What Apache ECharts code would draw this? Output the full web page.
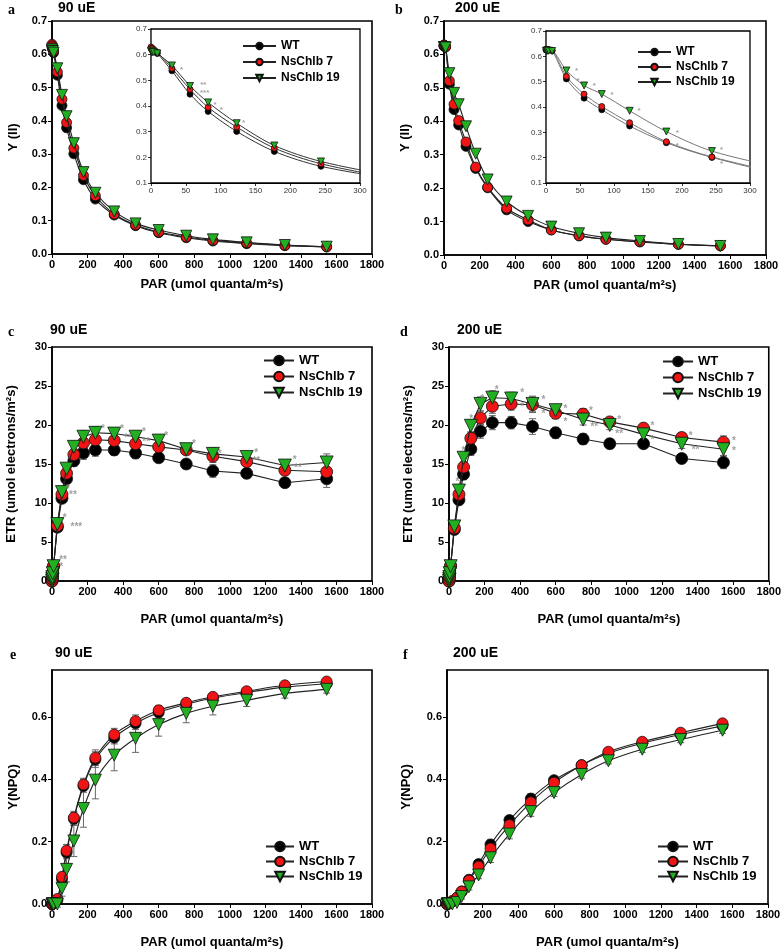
<!DOCTYPE html>
<html>
<head>
<meta charset="utf-8">
<script src="https://cdn.jsdelivr.net/npm/echarts@6/dist/echarts.min.js"></script>
<style>
  html, body { margin: 0; padding: 0; background: #fff; }
  #chart { width: 784px; height: 952px; }
</style>
</head>
<body>
<div id="chart"></div>
<script>
// light steps (umol quanta/m2s)
const PAR = [0, 1, 2, 4, 9, 30, 56, 82, 123, 177, 244, 350, 470, 600, 755, 905, 1095, 1310, 1545];

// a: Y(II), 90 uE
const a_WT = [0.625, 0.62, 0.62, 0.615, 0.605, 0.537, 0.446, 0.379, 0.301, 0.223, 0.165, 0.117, 0.085, 0.064, 0.049, 0.039, 0.031, 0.025, 0.021];
const a_7 = [0.63, 0.625, 0.625, 0.62, 0.61, 0.547, 0.465, 0.395, 0.318, 0.236, 0.175, 0.12, 0.087, 0.066, 0.051, 0.041, 0.033, 0.026, 0.022];
const a_19 = [0.615, 0.61, 0.61, 0.61, 0.605, 0.558, 0.478, 0.414, 0.333, 0.246, 0.184, 0.128, 0.092, 0.072, 0.055, 0.044, 0.035, 0.027, 0.022];

// b: Y(II), 200 uE
const b_WT = [0.625, 0.625, 0.625, 0.625, 0.622, 0.511, 0.435, 0.389, 0.325, 0.259, 0.201, 0.135, 0.1, 0.075, 0.057, 0.047, 0.039, 0.032, 0.027];
const b_7 = [0.628, 0.628, 0.627, 0.626, 0.624, 0.521, 0.451, 0.402, 0.338, 0.263, 0.203, 0.14, 0.105, 0.075, 0.058, 0.047, 0.04, 0.032, 0.028];
const b_19 = [0.622, 0.622, 0.622, 0.622, 0.621, 0.544, 0.485, 0.451, 0.385, 0.303, 0.226, 0.16, 0.117, 0.085, 0.065, 0.052, 0.042, 0.033, 0.027];

// c: ETR, 90 uE
const c_WT = [0, 0.26, 0.52, 1.0, 1.9, 6.9, 10.6, 13.1, 15.4, 16.4, 16.8, 16.8, 16.4, 15.8, 15.0, 14.1, 13.8, 12.6, 13.1];
const c_7 = [0, 0.26, 0.52, 1.0, 1.95, 7.1, 11.1, 13.8, 16.2, 17.7, 18.1, 18.0, 17.6, 17.2, 16.8, 16.0, 15.3, 14.2, 14.0];
const c_19 = [0, 0.25, 0.5, 1.0, 1.9, 7.3, 11.4, 14.4, 17.2, 18.5, 19.0, 18.9, 18.5, 18.0, 16.9, 16.3, 15.9, 14.8, 15.2];
const c_err = [0, 0, 0, 0, 0.2, 0.4, 0.5, 0.6, 0.7, 0.8, 0.8, 0.7, 0.7, 0.6, 0.5, 0.8, 0.6, 0.6, 1.1];

// d: ETR, 200 uE
const d_WT = [0, 0.26, 0.52, 1.0, 1.9, 6.6, 10.4, 13.7, 16.9, 19.2, 20.3, 20.3, 19.8, 19.0, 18.2, 17.6, 17.6, 15.7, 15.2];
const d_7 = [0, 0.26, 0.52, 1.0, 1.95, 6.8, 11.1, 14.6, 18.3, 20.9, 22.4, 22.7, 22.6, 21.5, 21.4, 20.4, 19.6, 18.4, 17.8];
const d_19 = [0, 0.26, 0.52, 1.0, 1.9, 7.0, 11.6, 15.8, 19.9, 22.7, 23.5, 23.4, 22.7, 21.9, 20.7, 20.0, 18.8, 17.6, 16.9];
const d_err = [0, 0, 0, 0, 0.2, 0.4, 0.6, 0.7, 0.8, 0.9, 0.9, 0.8, 1.0, 0.7, 0.7, 0.6, 0.6, 0.6, 0.8];

// e: Y(NPQ), 90 uE
const e_WT = [0, 0, 0, 0.002, 0.005, 0.012, 0.08, 0.165, 0.273, 0.378, 0.463, 0.533, 0.579, 0.614, 0.64, 0.66, 0.678, 0.695, 0.706];
const e_7 = [0, 0, 0, 0.003, 0.006, 0.016, 0.087, 0.171, 0.277, 0.383, 0.469, 0.543, 0.586, 0.621, 0.645, 0.664, 0.682, 0.701, 0.713];
const e_19 = [0, 0, 0, 0, 0, 0, 0.05, 0.111, 0.202, 0.306, 0.397, 0.477, 0.531, 0.575, 0.611, 0.634, 0.653, 0.675, 0.688];
const e_err = [0, 0, 0, 0, 0, 0.005, 0.01, 0.02, 0.02, 0.02, 0.025, 0.02, 0.02, 0.015, 0.012, 0.01, 0.01, 0.01, 0.01];
const e_err19 = [0, 0, 0, 0, 0, 0.01, 0.025, 0.04, 0.05, 0.06, 0.06, 0.05, 0.045, 0.037, 0.03, 0.028, 0.02, 0.015, 0.012];

// f: Y(NPQ), 200 uE
const f_WT = [0, 0, 0, 0, 0.002, 0.008, 0.02, 0.04, 0.078, 0.128, 0.191, 0.269, 0.338, 0.397, 0.445, 0.483, 0.515, 0.543, 0.571];
const f_7 = [0, 0, 0, 0, 0.003, 0.01, 0.02, 0.04, 0.075, 0.12, 0.178, 0.253, 0.326, 0.389, 0.445, 0.488, 0.52, 0.549, 0.579];
const f_19 = [0, 0, 0, 0, 0, 0, 0.005, 0.024, 0.055, 0.093, 0.148, 0.224, 0.296, 0.357, 0.415, 0.459, 0.496, 0.527, 0.557];
const f_err = [0, 0, 0, 0, 0, 0.003, 0.005, 0.008, 0.01, 0.012, 0.015, 0.015, 0.015, 0.012, 0.012, 0.01, 0.01, 0.01, 0.01];

// significance marks [PAR, value, text]
const starsA = [[44, 0.54, '*'], [75, 0.482, '**'], [77, 0.452, '***'], [92, 0.405, '*'], [101, 0.385, '*'], [133, 0.336, '*']];
const starsB = [[45, 0.541, '*'], [47, 0.504, '*'], [71, 0.484, '*'], [97, 0.448, '*'], [137, 0.385, '*'], [193, 0.3, '*'], [193, 0.246, '*'], [258, 0.23, '*'], [258, 0.177, '*']];
const starsC = [[52, 1.8, '*'], [62, 2.7, '**'], [71, 8, '*'], [137, 6.9, '***'], [90, 11.8, '*'], [118, 11, '**'], [287, 19.5, '*'], [394, 19.5, '*'], [428, 18.3, '**'], [517, 19.1, '*'], [530, 17.8, '**'], [643, 18.5, '*'], [799, 17.5, '*'], [943, 16.3, '*'], [1149, 16.4, '*'], [1149, 15.4, '**'], [1365, 15.5, '*'], [1384, 14.5, '**']];
const starsD = [[47, 12.6, '*'], [82, 16.6, '*'], [125, 20.7, '*'], [187, 23.3, '*'], [269, 24.4, '*'], [412, 24.1, '*'], [412, 22.3, '*'], [531, 23.2, '*'], [531, 21.4, '*'], [655, 22, '*'], [655, 20.3, '*'], [799, 21.7, '*'], [818, 19.7, '**'], [958, 20.6, '*'], [958, 18.8, '**'], [1145, 19.8, '*'], [1145, 18, '*'], [1360, 18.5, '*'], [1388, 16.8, '**'], [1604, 17.9, '*'], [1604, 16.6, '*']];

const NAMES = ['WT', 'NsChlb 7', 'NsChlb 19'];
const FONT = '"Liberation Sans", Arial, sans-serif';
const RED = '#f01414';
const GREEN = '#22b022';

const chart = echarts.init(document.getElementById('chart'));

// grid boxes: a, b, c, d, e, f, inset a, inset b
const boxes = [
  [52, 21, 320, 233], [444, 21, 322, 234],
  [52, 347, 320, 234], [449, 347, 321, 234],
  [52, 670, 320, 234], [447, 670, 321, 234],
  [151, 29, 209, 154], [546, 31, 204, 152]
];

const grid = boxes.map((b, i) => ({
  left: b[0], top: b[1], width: b[2], height: b[3],
  show: true, backgroundColor: '#fff',
  borderColor: '#000', borderWidth: i < 6 ? 1.6 : 1.3,
  z: i < 6 ? 0 : 3
}));

const xNameGap = [24, 24, 32, 32, 32, 32];
const yNameGap = [32, 32, 34, 34, 32, 34];
const yNames = ['Y (II)', 'Y (II)', 'ETR (umol electrons/m²s)', 'ETR (umol electrons/m²s)', 'Y(NPQ)', 'Y(NPQ)'];
const yRange = [[0, 0.7, 0.1], [0, 0.7, 0.1], [0, 30, 5], [0, 30, 5], [0, 0.75, 0.2], [0, 0.75, 0.2]];

const xAxis = [];
const yAxis = [];
for (let i = 0; i < 6; i++) {
  xAxis.push({
    type: 'value', gridIndex: i, min: 0, max: 1800, interval: 200,
    name: 'PAR (umol quanta/m²s)', nameLocation: 'middle', nameGap: xNameGap[i],
    nameTextStyle: { fontFamily: FONT, fontWeight: 'bold', fontSize: 13, color: '#000' },
    axisLine: { lineStyle: { color: '#000', width: 1.6 } },
    axisTick: { length: 4, lineStyle: { color: '#000', width: 1 } },
    axisLabel: { fontFamily: FONT, fontWeight: 'bold', fontSize: 11, color: '#000', margin: 5, formatter: v => String(v) },
    splitLine: { show: false }
  });
  const r = yRange[i];
  yAxis.push({
    type: 'value', gridIndex: i, min: r[0], max: r[1], interval: r[2],
    name: yNames[i], nameLocation: 'middle', nameGap: yNameGap[i], nameRotate: 90,
    nameTextStyle: { fontFamily: FONT, fontWeight: 'bold', fontSize: 13, color: '#000' },
    axisLine: { lineStyle: { color: '#000', width: 1.6 } },
    axisTick: { length: 4, lineStyle: { color: '#000', width: 1 } },
    axisLabel: {
      fontFamily: FONT, fontWeight: 'bold', fontSize: 11, color: '#000', margin: 5,
      showMaxLabel: i < 4,
      formatter: v => (i < 2 || i > 3) ? v.toFixed(1) : String(v)
    },
    splitLine: { show: false }
  });
}
// insets
for (let i = 6; i < 8; i++) {
  xAxis.push({
    type: 'value', gridIndex: i, min: 0, max: 300, interval: 50,
    axisLine: { lineStyle: { color: '#000', width: 1.2 } },
    axisTick: { length: 3, lineStyle: { color: '#000', width: 0.8 } },
    axisLabel: { fontFamily: FONT, fontSize: 8, color: '#333', margin: 4, formatter: v => String(v) },
    splitLine: { show: false }
  });
  yAxis.push({
    type: 'value', gridIndex: i, min: 0.1, max: 0.7, interval: 0.1,
    axisLine: { lineStyle: { color: '#000', width: 1.2 } },
    axisTick: { length: 3, lineStyle: { color: '#000', width: 0.8 } },
    axisLabel: { fontFamily: FONT, fontSize: 8, color: '#333', margin: 4, formatter: v => v.toFixed(1) },
    splitLine: { show: false }
  });
}

function pts(vals) {
  return PAR.map((p, i) => [p, vals[i]]);
}

function lineSeries(k, vals, idx, size, opts) {
  const colors = ['#000', RED, GREEN];
  const tri = k === 2;
  return Object.assign({
    type: 'line', name: NAMES[k], xAxisIndex: idx, yAxisIndex: idx,
    data: pts(vals),
    symbol: tri ? 'triangle' : 'circle',
    symbolRotate: tri ? 180 : 0,
    symbolSize: tri ? size + 1 : size,
    showAllSymbol: true,
    itemStyle: { color: colors[k], borderColor: '#111', borderWidth: 0.8 },
    lineStyle: { color: '#222', width: 1.1 },
    emphasis: { disabled: true },
    z: 5 + k
  }, opts || {});
}

function errSeries(vals, errs, idx) {
  return {
    type: 'custom', xAxisIndex: idx, yAxisIndex: idx, silent: true, z: 4,
    data: PAR.map((p, i) => [p, vals[i] - errs[i], vals[i] + errs[i]]),
    renderItem(params, api) {
      const lo = api.coord([api.value(0), api.value(1)]);
      const hi = api.coord([api.value(0), api.value(2)]);
      const w = 3.5;
      const st = { stroke: '#666', lineWidth: 1 };
      return {
        type: 'group', children: [
          { type: 'line', shape: { x1: lo[0], y1: lo[1], x2: hi[0], y2: hi[1] }, style: st },
          { type: 'line', shape: { x1: lo[0] - w, y1: lo[1], x2: lo[0] + w, y2: lo[1] }, style: st },
          { type: 'line', shape: { x1: hi[0] - w, y1: hi[1], x2: hi[0] + w, y2: hi[1] }, style: st }
        ]
      };
    }
  };
}

function starSeries(list, idx, size) {
  return {
    type: 'scatter', xAxisIndex: idx, yAxisIndex: idx, silent: true, z: 9,
    symbolSize: 0, data: list,
    label: {
      show: true, position: 'inside', formatter: p => p.value[2],
      fontFamily: FONT, fontWeight: 'bold', fontSize: size, color: '#8a8a8a'
    }
  };
}

const series = [];
// a
series.push(lineSeries(0, a_WT, 0, 10, { smooth: 0.3 }), lineSeries(1, a_7, 0, 10, { smooth: 0.3 }), lineSeries(2, a_19, 0, 10, { smooth: 0.3 }));
// b
series.push(lineSeries(0, b_WT, 1, 10, { smooth: 0.3 }), lineSeries(1, b_7, 1, 10, { smooth: 0.3 }), lineSeries(2, b_19, 1, 10, { smooth: 0.3 }));
// c
[c_WT, c_7, c_19].forEach(v => series.push(errSeries(v, c_err, 2)));
series.push(lineSeries(0, c_WT, 2, 12), lineSeries(1, c_7, 2, 12), lineSeries(2, c_19, 2, 12));
series.push(starSeries(starsC, 2, 10));
// d
[d_WT, d_7, d_19].forEach(v => series.push(errSeries(v, d_err, 3)));
series.push(lineSeries(0, d_WT, 3, 12), lineSeries(1, d_7, 3, 12), lineSeries(2, d_19, 3, 12));
series.push(starSeries(starsD, 3, 10));
// e
series.push(errSeries(e_WT, e_err, 4), errSeries(e_7, e_err, 4), errSeries(e_19, e_err19, 4));
series.push(lineSeries(0, e_WT, 4, 11, { smooth: 0.3 }), lineSeries(1, e_7, 4, 11, { smooth: 0.3 }), lineSeries(2, e_19, 4, 11, { smooth: 0.3 }));
// f
[f_WT, f_7, f_19].forEach(v => series.push(errSeries(v, f_err, 5)));
series.push(lineSeries(0, f_WT, 5, 11, { smooth: 0.3 }), lineSeries(1, f_7, 5, 11, { smooth: 0.3 }), lineSeries(2, f_19, 5, 11, { smooth: 0.3 }));
// insets
const insetLine = { smooth: 0.3, z: 12 };
series.push(
  lineSeries(0, a_WT, 6, 6, Object.assign({ lineStyle: { color: '#333', width: 1 } }, insetLine)),
  lineSeries(1, a_7, 6, 6, Object.assign({ lineStyle: { color: '#333', width: 1 } }, insetLine)),
  lineSeries(2, a_19, 6, 6, Object.assign({ lineStyle: { color: '#333', width: 1 } }, insetLine)),
  lineSeries(0, b_WT, 7, 6, Object.assign({ lineStyle: { color: '#777', width: 1 } }, insetLine)),
  lineSeries(1, b_7, 7, 6, Object.assign({ lineStyle: { color: '#777', width: 1 } }, insetLine)),
  lineSeries(2, b_19, 7, 6, Object.assign({ lineStyle: { color: '#777', width: 1 } }, insetLine))
);
const sa = starSeries(starsA, 6, 8); sa.z = 13;
const sb = starSeries(starsB, 7, 8); sb.z = 13;
series.push(sa, sb);

function legendAt(left, top, w, h, gap, fs) {
  return {
    orient: 'vertical', left: left, top: top, itemWidth: w, itemHeight: h, itemGap: gap,
    selectedMode: false, data: NAMES, z: 20, padding: 0,
    textStyle: { fontFamily: FONT, fontWeight: 'bold', fontSize: fs, color: '#000' }
  };
}

const legend = [
  legendAt(242, 40, 33, 8, 4, 12),
  legendAt(637, 46, 33, 8, 3, 12),
  legendAt(263, 354, 30, 12, 3, 13),
  legendAt(662, 355, 30, 12, 3, 13),
  legendAt(265, 840, 28, 12, 2, 13),
  legendAt(657, 840, 30, 12, 2, 13)
];

const headers = [
  ['a', 8, 10, '90 uE', 58, 8],
  ['b', 395, 10, '200 uE', 455, 8],
  ['c', 8, 332, '90 uE', 50, 330],
  ['d', 400, 332, '200 uE', 457, 330],
  ['e', 10, 655, '90 uE', 55, 653],
  ['f', 403, 655, '200 uE', 453, 653]
];
const graphic = [];
headers.forEach(h => {
  graphic.push({
    type: 'text', x: h[1], y: h[2],
    style: { text: h[0], font: 'bold 14px "Liberation Serif", "Times New Roman", serif', fill: '#000', textVerticalAlign: 'middle' }
  });
  graphic.push({
    type: 'text', x: h[4], y: h[5],
    style: { text: h[3], font: 'bold 14px ' + FONT, fill: '#000', textVerticalAlign: 'middle' }
  });
});

chart.setOption({
  animation: false,
  backgroundColor: '#fff',
  grid: grid,
  xAxis: xAxis,
  yAxis: yAxis,
  legend: legend,
  graphic: graphic,
  series: series
});
</script>
</body>
</html>
